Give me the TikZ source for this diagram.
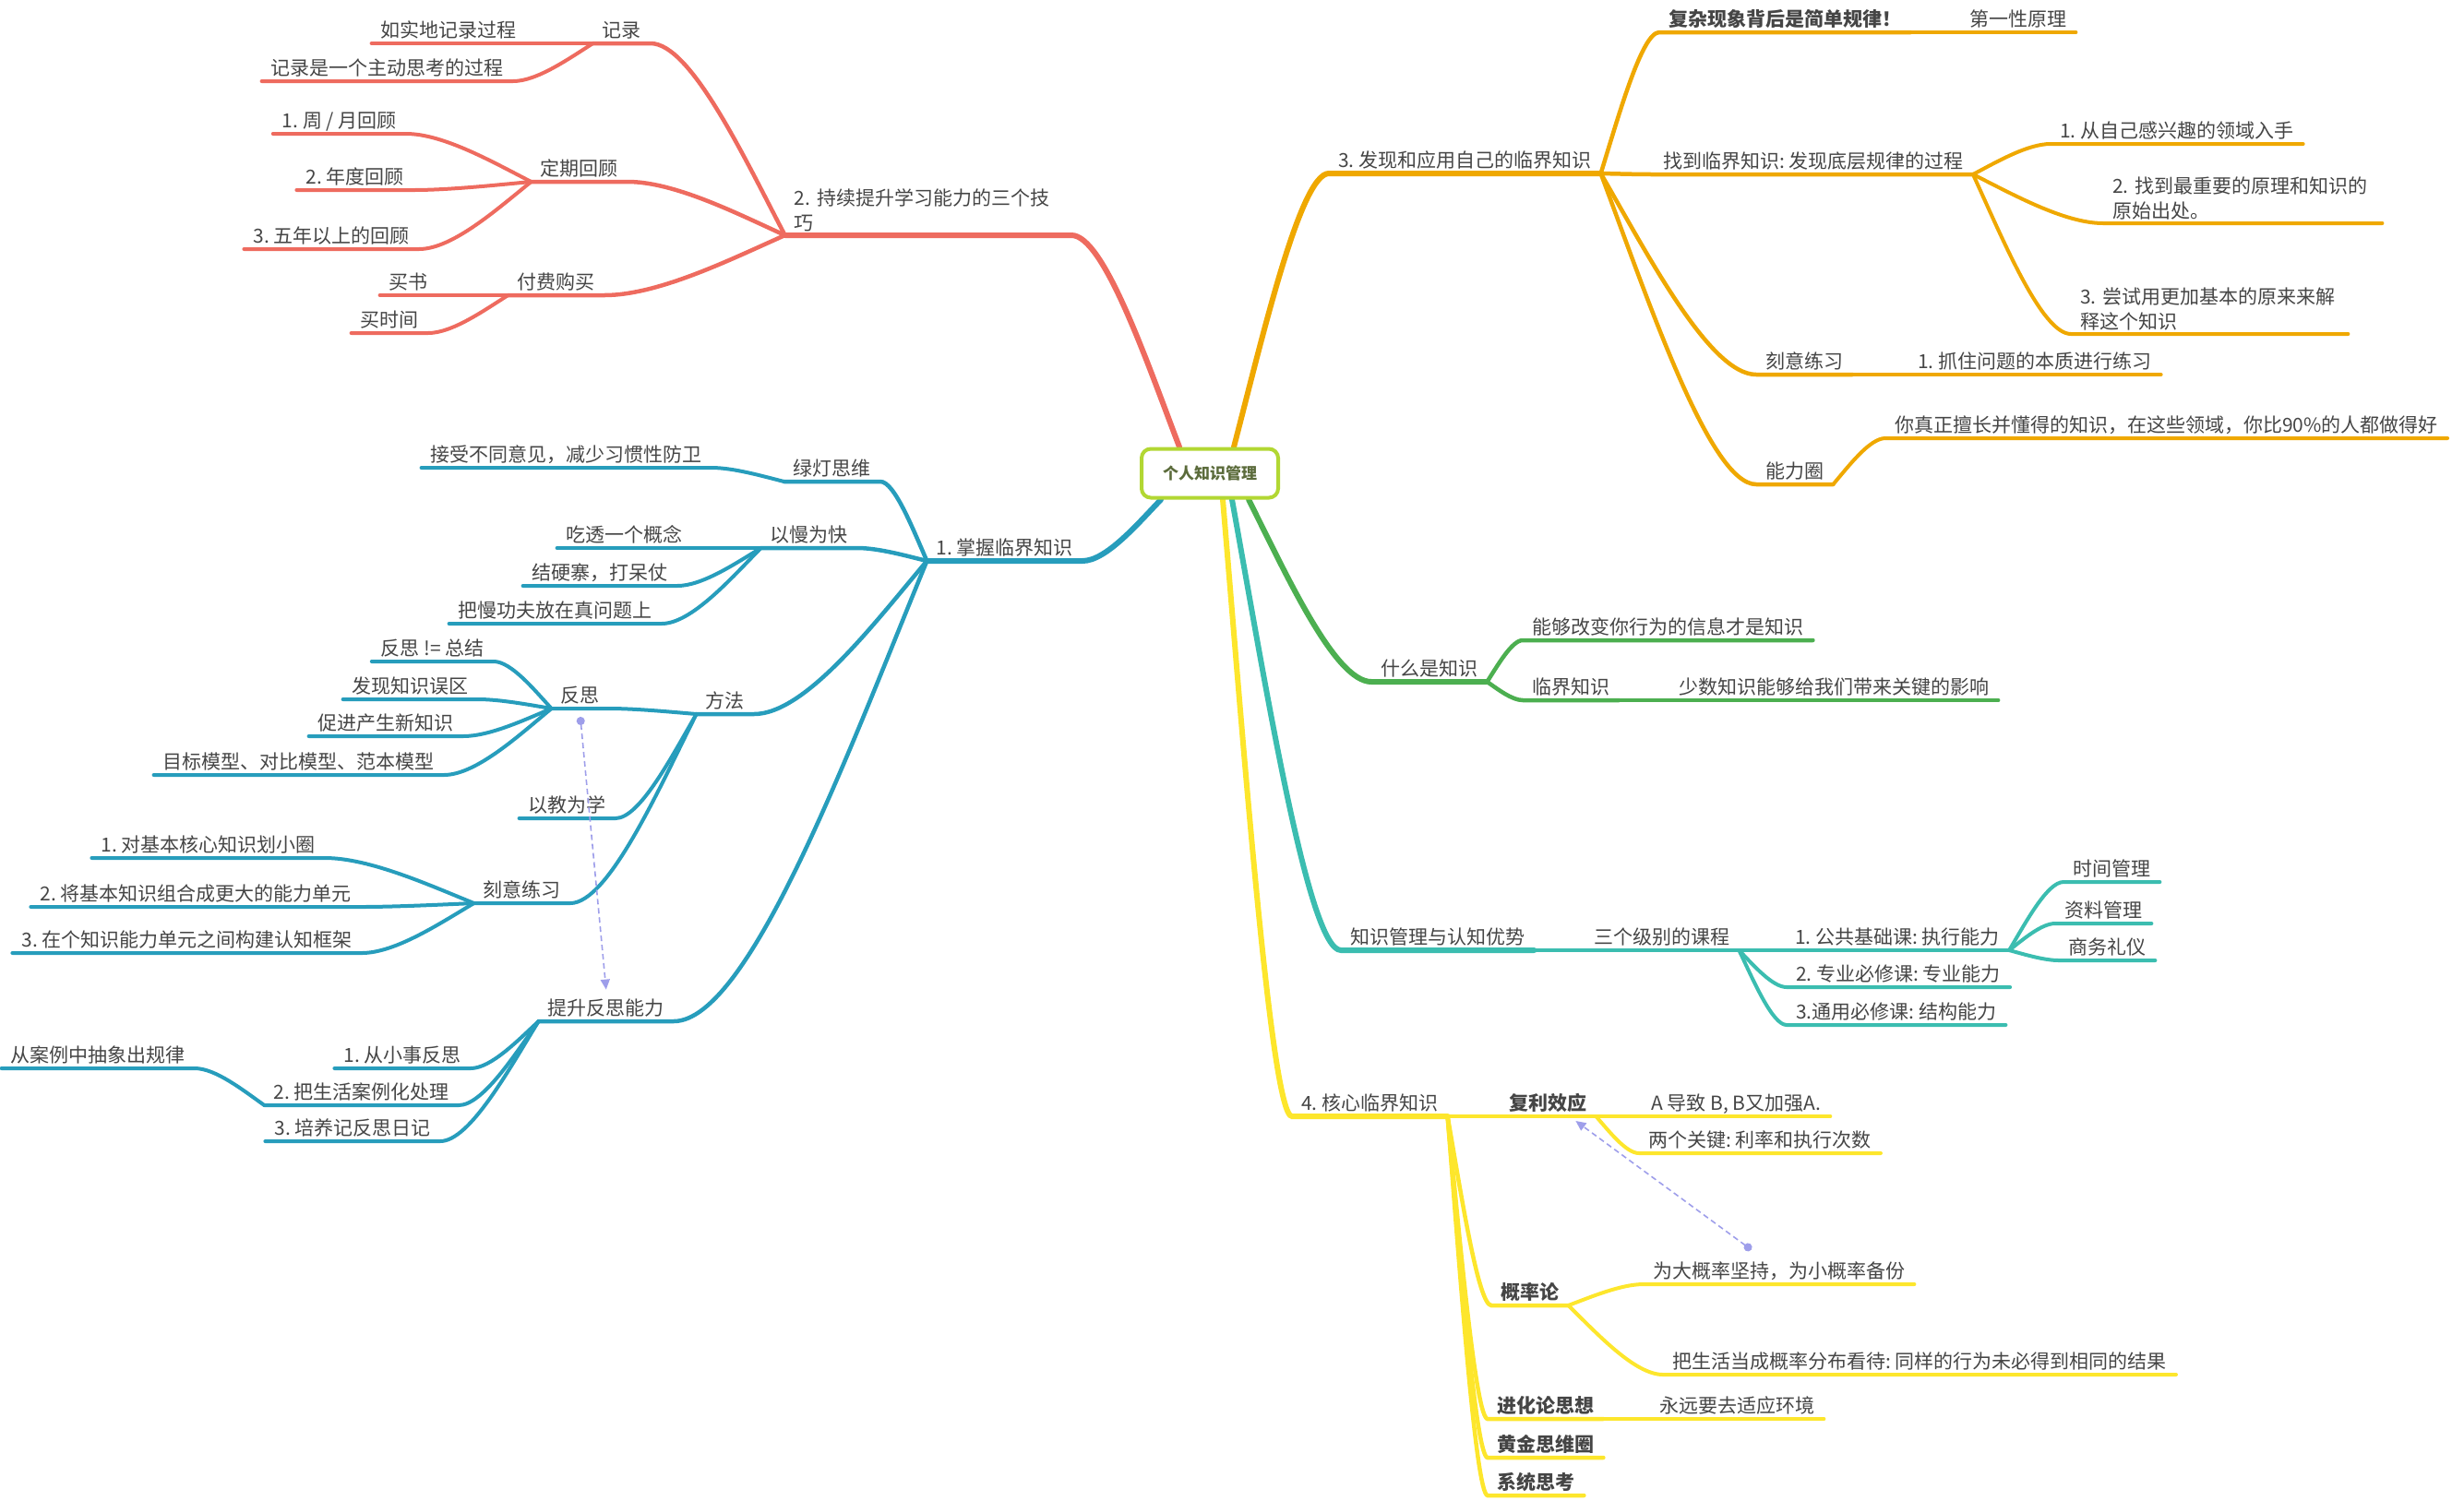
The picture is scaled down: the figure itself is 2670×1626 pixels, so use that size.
\documentclass[tikz,border=0pt]{standalone}
\usepackage{fontspec}
\setmainfont{Noto Sans CJK SC}
\usepackage{xcolor}
\usepackage{tikz}
\usetikzlibrary{arrows.meta,calc,backgrounds}
\definecolor{ink}{HTML}{454545}
\definecolor{hubline}{HTML}{B2D733}
\definecolor{hubtext}{HTML}{5B6B3B}
\definecolor{redb}{HTML}{EE6B5F}
\definecolor{orgb}{HTML}{EFA800}
\definecolor{blub}{HTML}{279DBC}
\definecolor{grnb}{HTML}{4CAF50}
\definecolor{tealb}{HTML}{3BBDB0}
\definecolor{yelb}{HTML}{FDE62C}
\definecolor{relc}{HTML}{9E9EEA}
\frenchspacing

\begin{document}
\begin{tikzpicture}[x=1pt, y=-1pt,
  topic/.style={inner xsep=10pt, inner ysep=2pt, text height=17pt, text depth=4pt,
                font=\fontsize{21}{27}\selectfont, text=ink},
  lt/.style={topic, anchor=south east},
  rt/.style={topic, anchor=south west},
  two/.style={text width=#1, align=left, text height=, text depth=, inner ysep=4pt},
  bf/.style={font=\fontsize{21}{27}\selectfont\bfseries},
  lv1/.style={line width=6pt, line cap=round, #1},
  lv2/.style={line width=4.5pt, line cap=round, #1},
  lv3/.style={line width=4pt, line cap=round, #1},
  branch/.style={to path={let \p1=(\tikztostart), \p2=(\tikztotarget) in
     .. controls ({\x1+0.3*(\x2-\x1)},{\y1+0.4*(\y2-\y1)})
        and ({\x2-0.3*(\x2-\x1)},\y2) .. (\tikztotarget)}},
  rel/.style={relc, line width=1.6pt, dash pattern=on 6pt off 4pt,
              {Circle[length=9pt]}-{Triangle[length=11pt,width=10pt]}},
]
  \useasboundingbox (0,0) rectangle (2670,1626);

  % Centre
  \node[draw=hubline, line width=4pt, rounded corners=10pt, fill=white,
        minimum width=148pt, minimum height=53pt, text=hubtext,
        font=\fontsize{17}{20}\selectfont\bfseries] (pkm) at (1311,513) {个人知识管理};

  % 2. learning skills (left, red)
  \node[lt, two=290pt] (skill) at (1161,255) {2. 持续提升学习能力的三个技\\巧};
  \node[lt] (rec) at (705,47) {记录};
  \node[lt] (rec1) at (570,47) {如实地记录过程};
  \node[lt] (rec2) at (556,88) {记录是一个主动思考的过程};
  \node[lt] (review) at (680,197) {定期回顾};
  \node[lt] (rev1) at (440,145) {1. 周 / 月回顾};
  \node[lt] (rev2) at (448,206) {2. 年度回顾};
  \node[lt] (rev3) at (454,270) {3. 五年以上的回顾};
  \node[lt] (pay) at (655,320) {付费购买};
  \node[lt] (pay1) at (474,320) {买书};
  \node[lt] (pay2) at (464,361) {买时间};

  % 1. critical knowledge (left, blue)
  \node[lt] (master) at (1173,608) {1. 掌握临界知识};
  \node[lt] (green) at (954,522) {绿灯思维};
  \node[lt] (green1) at (771,507) {接受不同意见，减少习惯性防卫};
  \node[lt] (slow) at (929,594) {以慢为快};
  \node[lt] (slow1) at (750,594) {吃透一个概念};
  \node[lt] (slow2) at (734,635) {结硬寨，打呆仗};
  \node[lt] (slow3) at (717,676) {把慢功夫放在真问题上};
  \node[lt] (method) at (817,774) {方法};
  \node[lt] (refl) at (660,768) {反思};
  \node[lt] (refl1) at (535,717) {反思 != 总结};
  \node[lt] (refl2) at (518,758) {发现知识误区};
  \node[lt] (refl3) at (502,798) {促进产生新知识};
  \node[lt] (refl4) at (481,840) {目标模型、对比模型、范本模型};
  \node[lt] (teach) at (667,887) {以教为学};
  \node[lt] (drill) at (618,979) {刻意练习};
  \node[lt] (drill1) at (352,930) {1. 对基本核心知识划小圈};
  \node[lt] (drill2) at (391,983) {2. 将基本知识组合成更大的能力单元};
  \node[lt] (drill3) at (392,1033) {3. 在个知识能力单元之间构建认知框架};
  \node[lt] (boost) at (730,1107) {提升反思能力};
  \node[lt] (boost1) at (510,1158) {1. 从小事反思};
  \node[lt] (boost2) at (497,1198) {2. 把生活案例化处理};
  \node[lt] (case) at (211,1158) {从案例中抽象出规律};
  \node[lt] (boost3) at (477,1237) {3. 培养记反思日记};

  % 3. find own critical knowledge (right, orange)
  \node[rt] (find) at (1440,188) {3. 发现和应用自己的临界知识};
  \node[rt, bf] (first) at (1798,35) {复杂现象背后是简单规律！};
  \node[rt] (first1) at (2124,35) {第一性原理};
  \node[rt] (crit) at (1792,189) {找到临界知识: 发现底层规律的过程};
  \node[rt] (crit1) at (2222,156) {1. 从自己感兴趣的领域入手};
  \node[rt, two=282pt] (crit2) at (2279,242) {2. 找到最重要的原理和知识的\\原始出处。};
  \node[rt, two=280pt] (crit3) at (2244,362) {3. 尝试用更加基本的原来来解\\释这个知识};
  \node[rt] (odrill) at (1903,406) {刻意练习};
  \node[rt] (odrill1) at (2068,406) {1. 抓住问题的本质进行练习};
  \node[rt] (circle) at (1903,525) {能力圈};
  \node[rt] (circle1) at (2043,475) {你真正擅长并懂得的知识，在这些领域，你比90\%的人都做得好};

  % what is knowledge (right, green)
  \node[rt] (what) at (1486,739) {什么是知识};
  \node[rt] (what1) at (1650,694) {能够改变你行为的信息才是知识};
  \node[rt] (what2) at (1650,759) {临界知识};
  \node[rt] (what2a) at (1809,759) {少数知识能够给我们带来关键的影响};

  % knowledge management (right, teal)
  \node[rt] (km) at (1453,1030) {知识管理与认知优势};
  \node[rt] (course) at (1717,1030) {三个级别的课程};
  \node[rt] (c1) at (1935,1030) {1. 公共基础课: 执行能力};
  \node[rt] (c1a) at (2236,956) {时间管理};
  \node[rt] (c1b) at (2227,1001) {资料管理};
  \node[rt] (c1c) at (2231,1041) {商务礼仪};
  \node[rt] (c2) at (1936,1070) {2. 专业必修课: 专业能力};
  \node[rt] (c3) at (1936,1111) {3.通用必修课: 结构能力};

  % 4. core critical knowledge (right, yellow)
  \node[rt] (core) at (1400,1210) {4. 核心临界知识};
  \node[rt, bf] (comp) at (1625,1210) {复利效应};
  \node[rt] (comp1) at (1779,1210) {A 导致 B, B又加强A.};
  \node[rt] (comp2) at (1776,1250) {两个关键: 利率和执行次数};
  \node[rt, bf] (prob) at (1616,1415) {概率论};
  \node[rt] (prob1) at (1781,1392) {为大概率坚持，为小概率备份};
  \node[rt] (prob2) at (1802,1490) {把生活当成概率分布看待: 同样的行为未必得到相同的结果};
  \node[rt, bf] (evo) at (1612,1538) {进化论思想};
  \node[rt] (evo1) at (1788,1538) {永远要去适应环境};
  \node[rt, bf] (gold) at (1612,1580) {黄金思维圈};
  \node[rt, bf] (sys) at (1612,1621) {系统思考};

  \begin{pgfonlayer}{background}
  % red branches
  \draw[lv1=redb] ([xshift=-33pt]pkm.north) to[branch] (skill.south east) -- (skill.south west);
  \draw[lv2=redb] (skill.south west) to[branch] (rec.south east) -- (rec.south west);
  \draw[lv3=redb] (rec.south west) to[branch] (rec1.south east) -- (rec1.south west);
  \draw[lv3=redb] (rec.south west) to[branch] (rec2.south east) -- (rec2.south west);
  \draw[lv2=redb] (skill.south west) to[branch] (review.south east) -- (review.south west);
  \draw[lv3=redb] (review.south west) to[branch] (rev1.south east) -- (rev1.south west);
  \draw[lv3=redb] (review.south west) to[branch] (rev2.south east) -- (rev2.south west);
  \draw[lv3=redb] (review.south west) to[branch] (rev3.south east) -- (rev3.south west);
  \draw[lv2=redb] (skill.south west) to[branch] (pay.south east) -- (pay.south west);
  \draw[lv3=redb] (pay.south west) to[branch] (pay1.south east) -- (pay1.south west);
  \draw[lv3=redb] (pay.south west) to[branch] (pay2.south east) -- (pay2.south west);

  % blue branches
  \draw[lv1=blub] ([xshift=-53pt]pkm.south) to[branch] (master.south east) -- (master.south west);
  \draw[lv2=blub] (master.south west) to[branch] (green.south east) -- (green.south west);
  \draw[lv3=blub] (green.south west) to[branch] (green1.south east) -- (green1.south west);
  \draw[lv2=blub] (master.south west) to[branch] (slow.south east) -- (slow.south west);
  \draw[lv3=blub] (slow.south west) to[branch] (slow1.south east) -- (slow1.south west);
  \draw[lv3=blub] (slow.south west) to[branch] (slow2.south east) -- (slow2.south west);
  \draw[lv3=blub] (slow.south west) to[branch] (slow3.south east) -- (slow3.south west);
  \draw[lv2=blub] (master.south west) to[branch] (method.south east) -- (method.south west);
  \draw[lv3=blub] (method.south west) to[branch] (refl.south east) -- (refl.south west);
  \draw[lv3=blub] (refl.south west) to[branch] (refl1.south east) -- (refl1.south west);
  \draw[lv3=blub] (refl.south west) to[branch] (refl2.south east) -- (refl2.south west);
  \draw[lv3=blub] (refl.south west) to[branch] (refl3.south east) -- (refl3.south west);
  \draw[lv3=blub] (refl.south west) to[branch] (refl4.south east) -- (refl4.south west);
  \draw[lv3=blub] (method.south west) to[branch] (teach.south east) -- (teach.south west);
  \draw[lv3=blub] (method.south west) to[branch] (drill.south east) -- (drill.south west);
  \draw[lv3=blub] (drill.south west) to[branch] (drill1.south east) -- (drill1.south west);
  \draw[lv3=blub] (drill.south west) to[branch] (drill2.south east) -- (drill2.south west);
  \draw[lv3=blub] (drill.south west) to[branch] (drill3.south east) -- (drill3.south west);
  \draw[lv2=blub] (master.south west) to[branch] (boost.south east) -- (boost.south west);
  \draw[lv3=blub] (boost.south west) to[branch] (boost1.south east) -- (boost1.south west);
  \draw[lv3=blub] (boost.south west) to[branch] (boost2.south east) -- (boost2.south west);
  \draw[lv3=blub] (boost2.south west) to[branch] (case.south east) -- (case.south west);
  \draw[lv3=blub] (boost.south west) to[branch] (boost3.south east) -- (boost3.south west);

  % orange branches
  \draw[lv1=orgb] ([xshift=26pt]pkm.north) to[branch] (find.south west) -- (find.south east);
  \draw[lv2=orgb] (find.south east) to[branch] (first.south west) -- (first.south east);
  \draw[lv3=orgb] (first.south east) to[branch] (first1.south west) -- (first1.south east);
  \draw[lv2=orgb] (find.south east) to[branch] (crit.south west) -- (crit.south east);
  \draw[lv3=orgb] (crit.south east) to[branch] (crit1.south west) -- (crit1.south east);
  \draw[lv3=orgb] (crit.south east) to[branch] (crit2.south west) -- (crit2.south east);
  \draw[lv3=orgb] (crit.south east) to[branch] (crit3.south west) -- (crit3.south east);
  \draw[lv2=orgb] (find.south east) to[branch] (odrill.south west) -- (odrill.south east);
  \draw[lv3=orgb] (odrill.south east) to[branch] (odrill1.south west) -- (odrill1.south east);
  \draw[lv2=orgb] (find.south east) to[branch] (circle.south west) -- (circle.south east);
  \draw[lv3=orgb] (circle.south east) to[branch] (circle1.south west) -- (circle1.south east);

  % green branches
  \draw[lv1=grnb] ([xshift=42pt]pkm.south) to[branch] (what.south west) -- (what.south east);
  \draw[lv2=grnb] (what.south east) to[branch] (what1.south west) -- (what1.south east);
  \draw[lv2=grnb] (what.south east) to[branch] (what2.south west) -- (what2.south east);
  \draw[lv3=grnb] (what2.south east) to[branch] (what2a.south west) -- (what2a.south east);

  % teal branches
  \draw[lv1=tealb] ([xshift=24pt]pkm.south) to[branch] (km.south west) -- (km.south east);
  \draw[lv2=tealb] (km.south east) to[branch] (course.south west) -- (course.south east);
  \draw[lv3=tealb] (course.south east) to[branch] (c1.south west) -- (c1.south east);
  \draw[lv3=tealb] (c1.south east) to[branch] (c1a.south west) -- (c1a.south east);
  \draw[lv3=tealb] (c1.south east) to[branch] (c1b.south west) -- (c1b.south east);
  \draw[lv3=tealb] (c1.south east) to[branch] (c1c.south west) -- (c1c.south east);
  \draw[lv3=tealb] (course.south east) to[branch] (c2.south west) -- (c2.south east);
  \draw[lv3=tealb] (course.south east) to[branch] (c3.south west) -- (c3.south east);

  % yellow branches
  \draw[lv1=yelb] ([xshift=14pt]pkm.south) to[branch] (core.south west) -- (core.south east);
  \draw[lv2=yelb] (core.south east) to[branch] (comp.south west) -- (comp.south east);
  \draw[lv3=yelb] (comp.south east) to[branch] (comp1.south west) -- (comp1.south east);
  \draw[lv3=yelb] (comp.south east) to[branch] (comp2.south west) -- (comp2.south east);
  \draw[lv2=yelb] (core.south east) to[branch] (prob.south west) -- (prob.south east);
  \draw[lv3=yelb] (prob.south east) to[branch] (prob1.south west) -- (prob1.south east);
  \draw[lv3=yelb] (prob.south east) to[branch] (prob2.south west) -- (prob2.south east);
  \draw[lv2=yelb] (core.south east) to[branch] (evo.south west) -- (evo.south east);
  \draw[lv3=yelb] (evo.south east) to[branch] (evo1.south west) -- (evo1.south east);
  \draw[lv2=yelb] (core.south east) to[branch] (gold.south west) -- (gold.south east);
  \draw[lv2=yelb] (core.south east) to[branch] (sys.south west) -- (sys.south east);
  \end{pgfonlayer}

  % relations
  \draw[rel] ([yshift=-9pt]refl.south) -- ([yshift=9pt]boost.north);
  \draw[rel] ([xshift=-30pt,yshift=12pt]prob1.north) -- ([xshift=-22pt,yshift=-5pt]comp.south east);
\end{tikzpicture}
\end{document}
